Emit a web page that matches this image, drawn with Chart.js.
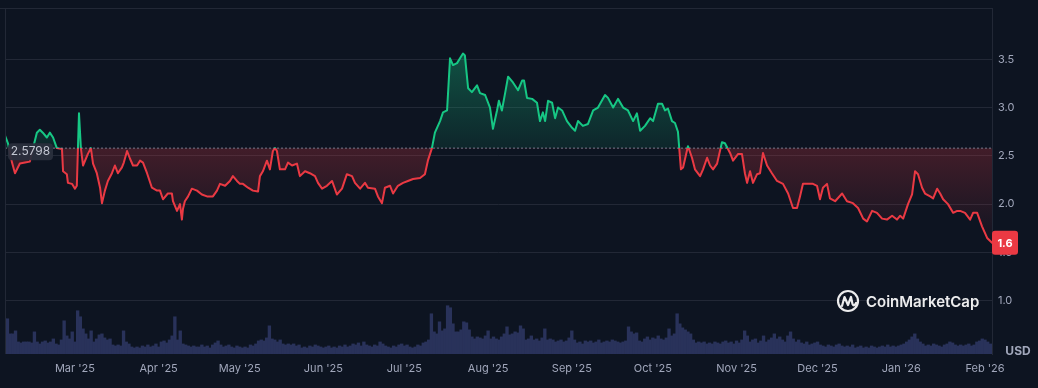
<!DOCTYPE html>
<html><head><meta charset="utf-8">
<script src="https://cdn.jsdelivr.net/npm/chart.js@4.4.1/dist/chart.umd.min.js"></script>
<style>html,body{margin:0;padding:0;background:#0d1421;overflow:hidden}#c{display:block}</style>
</head><body><canvas id="c" width="1038" height="388"></canvas>
<script>
// ---- data (days counted from 1 Mar 2025) ----
const openPrice = 2.5798;
const lastPrice = 1.6;
const priceDays = [
 -25.9,-24.8,-23.3,-22.2,-20.4,-18.5,-16.7,-15.6,-14.1,-13.0,
 -11.9,-10.4,-9.3,-8.1,-6.7,-4.8,-4.4,-3.0,-2.6,-1.1,
 0,0.7,1.5,2.2,3.0,4.8,5.9,6.7,8.1,9.3,
 10.0,11.1,12.2,13.7,14.8,15.9,17.4,18.1,19.3,20.4,
 21.5,23.0,24.1,25.2,26.7,28.5,30.4,31.5,32.6,34.4,
 35.9,36.3,37.8,38.9,39.6,40.0,40.7,41.9,43.3,45.2,
 47.0,48.9,51.1,52.6,53.7,55.6,57.4,58.5,60.0,61.1,
 62.2,64.1,65.9,67.8,68.5,69.6,71.1,72.2,73.3,74.1,
 74.8,75.9,77.8,78.9,80.4,82.2,83.3,85.2,87.0,88.9,
 90.0,91.5,93.3,95.2,97.0,98.9,100.7,102.6,103.7,105.6,
 107.4,108.5,111.1,112.2,113.7,114.8,116.7,117.8,119.6,121.5,
 123.3,125.2,127.8,129.6,130.7,132.2,133.3,135.2,136.3,137.8,
 138.9,140.0,141.5,142.6,143.7,144.4,145.6,147.0,148.9,150.0,
 151.9,153.7,154.8,156.3,157.0,158.1,159.3,160.4,162.2,164.1,
 165.6,166.3,167.4,169.3,171.1,172.2,173.3,174.1,175.2,176.7,
 177.8,178.9,180.4,182.2,184.1,185.2,186.3,188.1,190.0,191.9,
 193.7,196.3,197.4,199.3,201.1,203.0,204.8,206.7,208.1,209.3,
 211.1,213.0,214.1,215.9,217.4,218.5,219.6,221.1,222.2,223.3,
 224.4,225.2,227.0,228.5,229.6,231.5,232.6,234.1,235.2,236.3,
 237.8,239.6,240.7,242.6,243.7,245.6,247.0,248.1,248.9,250.0,
 251.1,252.6,253.7,254.8,256.3,258.1,260.0,262.2,264.1,265.9,
 267.4,268.5,269.6,271.5,273.3,274.8,275.9,277.0,278.5,279.6,
 281.5,284.1,285.9,288.1,290.0,291.9,293.3,295.2,297.0,298.9,
 300.7,302.6,304.4,305.6,306.7,308.5,310.0,311.1,312.2,313.7,
 314.8,316.7,317.8,319.3,320.4,321.5,323.3,325.2,326.7,327.8,
 329.6,331.5,332.6,334.1,335.9,337.8,339.6
];
const priceValues = [
 2.71,2.63,2.43,2.32,2.42,2.43,2.44,2.57,2.74,2.77,
 2.74,2.69,2.74,2.69,2.58,2.57,2.34,2.31,2.22,2.21,
 2.16,2.19,2.94,2.58,2.40,2.52,2.58,2.42,2.32,2.17,
 2.01,2.14,2.24,2.32,2.40,2.32,2.38,2.43,2.55,2.47,
 2.40,2.40,2.45,2.43,2.32,2.17,2.14,2.14,2.05,2.11,
 2.11,2.03,1.93,2.00,1.84,1.95,2.03,2.08,2.16,2.14,
 2.10,2.08,2.08,2.14,2.21,2.19,2.24,2.29,2.24,2.21,
 2.21,2.17,2.14,2.13,2.29,2.34,2.45,2.36,2.55,2.58,
 2.55,2.36,2.36,2.43,2.40,2.42,2.29,2.34,2.32,2.29,
 2.22,2.16,2.19,2.24,2.10,2.16,2.31,2.29,2.22,2.16,
 2.22,2.17,2.16,2.08,2.01,2.17,2.19,2.11,2.19,2.22,
 2.24,2.26,2.27,2.31,2.45,2.58,2.74,2.86,2.95,2.97,
 3.51,3.44,3.46,3.51,3.56,3.54,3.20,3.16,3.23,3.15,
 3.13,3.00,2.78,2.97,3.07,2.97,3.15,3.32,3.26,3.18,
 3.28,3.28,3.10,3.09,3.05,2.86,2.95,2.86,3.07,3.05,
 2.89,3.00,2.97,2.86,2.79,2.76,2.86,2.81,2.83,2.97,
 3.00,3.13,3.10,3.00,3.09,3.00,2.97,2.86,2.94,2.76,
 2.81,2.89,2.86,3.04,3.04,2.97,2.99,2.86,2.84,2.75,
 2.36,2.38,2.60,2.48,2.36,2.29,2.36,2.48,2.40,2.36,
 2.42,2.64,2.63,2.53,2.45,2.52,2.52,2.32,2.22,2.34,
 2.22,2.31,2.32,2.53,2.40,2.32,2.24,2.21,2.11,1.96,
 1.96,2.08,2.21,2.21,2.21,2.19,2.05,2.17,2.21,2.06,
 2.03,2.11,2.03,2.01,1.96,1.85,1.82,1.93,1.91,1.85,
 1.84,1.88,1.84,1.88,1.85,2.00,2.10,2.34,2.31,2.17,
 2.11,2.08,2.06,2.16,2.11,2.05,2.00,1.91,1.93,1.93,
 1.91,1.84,1.91,1.91,1.77,1.65,1.60
];
const volumeStartDay = -26;
const volumeValues = [
 35,35,20,20,23,12,11,12,12,12,11,22,12,10,12,13,11,12,15,10,9,14,33,18,15,22,
 12,43,37,25,20,15,23,12,15,19,20,16,14,15,9,8,9,8,23,12,10,
 7,6,7,6,8,7,9,7,8,10,7,
 12,13,11,14,18,37,14,23,10,
 9,8,7,8,7,7,9,7,8,6,9,
 11,13,9,7,8,9,7,6,8,
 7,6,7,6,9,8,10,
 13,14,13,16,28,15,14,12,14,
 10,9,10,9,10,8,9,
 6,7,6,8,7,9,8,7,6,7,8,6,7,6,8,7,9,7,8,
 10,9,11,8,12,9,8,7,9,8,
 12,10,8,7,6,8,7,9,10,8,
 9,7,6,7,9,8,11,12,14,
 40,22,20,32,23,25,48,46,30,22,22,24,32,31,24,
 17,15,17,16,15,18,23,15,17,15,14,17,20,27,19,20,22,21,
 28,25,14,15,18,14,15,13,16,25,14,15,14,12,13,14,12,13,16,
 23,14,11,12,10,13,12,13,11,12,14,11,12,13,12,14,13,12,11,12,13,
 27,22,20,21,13,12,15,17,14,16,15,18,15,14,16,25,18,20,40,30,26,24,22,20,
 14,11,12,11,12,10,11,10,12,11,10,12,13,11,12,10,13,11,14,23,18,
 12,14,15,11,13,18,12,14,16,20,15,17,14,12,18,22,15,12,14,
 11,10,12,9,10,11,12,9,8,7,9,8,7,9,10,8,7,8,7,9,
 6,7,8,6,7,6,8,7,6,7,8,7,9,7,8,7,8,9,10,
 12,14,17,20,15,12,10,8,9,8,10,9,8,7,9,10,
 12,11,9,8,9,8,9,10,8,9,12,13,15,14,12,10
];
const monthDays = [0,31,61,92,122,153,184,214,245,275,306,337];
const monthLabels = ["Mar '25","Apr '25","May '25","Jun '25","Jul '25","Aug '25","Sep '25","Oct '25","Nov '25","Dec '25","Jan '26","Feb '26"];
const priceTicks = [1.0,1.5,2.0,2.5,3.0,3.5];

// ---- styling ----
const BG = '#0d1421';
const GREEN = '#16c784';
const RED = '#ea3943';
const GRID = '#222836';
const TICK = '#a1a7bb';
const xMin = -25.9, xMax = 339.6;
const FONT = 'Inter, "Noto Sans", Roboto, sans-serif';

function makeGradient(chart, kind) {
  const {ctx, chartArea, scales} = chart;
  if (!chartArea || !scales.y) return kind === 'line' ? RED : 'rgba(0,0,0,0)';
  const top = chartArea.top, bottom = chartArea.bottom, h = bottom - top;
  const fr = v => Math.min(Math.max((scales.y.getPixelForValue(v) - top) / h, 0), 1);
  const fb = fr(openPrice);
  const g = ctx.createLinearGradient(0, top, 0, bottom);
  if (kind === 'line') {
    g.addColorStop(0, GREEN); g.addColorStop(fb, GREEN);
    g.addColorStop(fb, RED); g.addColorStop(1, RED);
  } else {
    const fh = fr(Math.max(...priceValues));
    const fl = fr(Math.min(...priceValues));
    g.addColorStop(0, 'rgba(22,199,132,0.34)');
    g.addColorStop(fh, 'rgba(22,199,132,0.34)');
    g.addColorStop(fb, 'rgba(22,199,132,0.10)');
    g.addColorStop(fb, 'rgba(234,57,67,0.24)');
    g.addColorStop(fl, 'rgba(234,57,67,0.02)');
    g.addColorStop(1, 'rgba(234,57,67,0.0)');
  }
  return g;
}

function roundRect(ctx, x, y, w, h, r) {
  ctx.beginPath();
  ctx.moveTo(x + r, y);
  ctx.lineTo(x + w - r, y); ctx.quadraticCurveTo(x + w, y, x + w, y + r);
  ctx.lineTo(x + w, y + h - r); ctx.quadraticCurveTo(x + w, y + h, x + w - r, y + h);
  ctx.lineTo(x + r, y + h); ctx.quadraticCurveTo(x, y + h, x, y + h - r);
  ctx.lineTo(x, y + r); ctx.quadraticCurveTo(x, y, x + r, y);
  ctx.closePath();
}

const bgPlugin = {
  id: 'bg',
  beforeDraw(chart) {
    const {ctx, width, height} = chart;
    ctx.save(); ctx.fillStyle = BG; ctx.fillRect(0, 0, width, height); ctx.restore();
  }
};

const overlayPlugin = {
  id: 'overlay',
  afterDraw(chart) {
    const {ctx, chartArea: a, scales} = chart;
    ctx.save();
    // frame lines
    ctx.strokeStyle = GRID; ctx.lineWidth = 1;
    ctx.beginPath();
    ctx.moveTo(0, a.top + 0.5); ctx.lineTo(a.right, a.top + 0.5);
    ctx.moveTo(a.left + 0.5, a.top); ctx.lineTo(a.left + 0.5, a.bottom);
    ctx.stroke();

    // watermark
    const wx = 848, wy = 301;
    ctx.strokeStyle = 'rgba(255,255,255,0.92)';
    ctx.lineWidth = 2.2; ctx.lineJoin = 'round'; ctx.lineCap = 'round';
    ctx.beginPath(); ctx.arc(wx, wy, 10, 0, Math.PI * 2); ctx.stroke();
    ctx.beginPath();
    ctx.moveTo(wx - 6, wy + 5); ctx.lineTo(wx - 3.5, wy - 4); ctx.lineTo(wx, wy + 4);
    ctx.lineTo(wx + 3, wy - 4); ctx.lineTo(wx + 4.5, wy + 3); ctx.quadraticCurveTo(wx + 6, wy + 6, wx + 8, wy + 2);
    ctx.stroke();
    ctx.fillStyle = 'rgba(255,255,255,0.92)';
    ctx.font = '600 15px ' + FONT;
    ctx.textAlign = 'left'; ctx.textBaseline = 'middle';
    ctx.fillText('CoinMarketCap', 866, wy + 1);

    // open price label
    const yb = scales.y.getPixelForValue(openPrice);
    ctx.fillStyle = 'rgba(42,47,61,0.95)';
    roundRect(ctx, a.left + 3, yb - 5, 45, 17, 4); ctx.fill();
    ctx.fillStyle = '#c3c7d2';
    ctx.font = '12px ' + FONT;
    ctx.textAlign = 'center'; ctx.textBaseline = 'middle';
    ctx.fillText(openPrice.toFixed(4), a.left + 25.5, yb + 3.5);

    // last price badge
    const yl = scales.y.getPixelForValue(lastPrice);
    ctx.fillStyle = RED;
    roundRect(ctx, a.right, yl - 12, 26, 24, 3); ctx.fill();
    ctx.fillStyle = '#ffffff';
    ctx.font = 'bold 11px ' + FONT;
    ctx.fillText(String(lastPrice), a.right + 13, yl + 0.5);

    // currency label
    ctx.fillStyle = TICK;
    ctx.font = 'bold 12px ' + FONT;
    ctx.fillText('USD', a.right + 26, a.bottom - 3);
    ctx.restore();
  }
};

const chart = new Chart(document.getElementById('c').getContext('2d'), {
  type: 'line',
  data: {
    datasets: [
      {
        type: 'line', label: 'Open', order: 0,
        data: [{x: xMin, y: openPrice}, {x: xMax, y: openPrice}],
        borderColor: 'rgba(150,156,175,0.75)', borderWidth: 1, borderDash: [2, 2],
        pointRadius: 0, fill: false, yAxisID: 'y'
      },
      {
        type: 'line', label: 'Price', order: 1,
        data: priceDays.map((d, i) => ({x: d, y: priceValues[i]})),
        borderColor: c => makeGradient(c.chart, 'line'),
        backgroundColor: c => makeGradient(c.chart, 'fill'),
        fill: {target: {value: openPrice}},
        borderWidth: 2, pointRadius: 0, tension: 0,
        borderJoinStyle: 'round', borderCapStyle: 'round', yAxisID: 'y'
      },
      {
        type: 'bar', label: 'Volume', order: 2,
        data: volumeValues.map((v, i) => ({x: volumeStartDay + i, y: v})),
        backgroundColor: '#29325a', borderWidth: 0,
        barPercentage: 1, categoryPercentage: 1, yAxisID: 'yVol'
      }
    ]
  },
  options: {
    responsive: false, animation: false, devicePixelRatio: 1,
    layout: {padding: {left: 5, top: 8, right: 0, bottom: 0}},
    plugins: {legend: {display: false}, tooltip: {enabled: false}},
    scales: {
      x: {
        type: 'linear', min: xMin, max: xMax, offset: false,
        grid: {display: false, drawTicks: false},
        border: {display: false},
        afterBuildTicks: s => { s.ticks = monthDays.map(v => ({value: v})); },
        afterFit: s => { s.height = 34; s.paddingLeft = 0; s.paddingRight = 0; },
        ticks: {
          autoSkip: false, maxRotation: 0, padding: 8, color: TICK,
          font: {family: FONT, size: 11},
          callback: (v, i) => monthLabels[i]
        }
      },
      y: {
        type: 'linear', position: 'right', min: 0.448, max: 4.031,
        grid: {color: GRID, drawTicks: false, lineWidth: 1},
        border: {display: true, color: GRID},
        afterBuildTicks: s => { s.ticks = priceTicks.map(v => ({value: v})); },
        afterFit: s => { s.width = 46; s.paddingTop = 0; s.paddingBottom = 0; },
        ticks: {
          padding: 6, color: TICK, font: {family: FONT, size: 11},
          callback: v => Number(v).toFixed(1)
        }
      },
      yVol: {type: 'linear', display: false, min: 0, max: 344}
    }
  },
  plugins: [bgPlugin, overlayPlugin]
});
</script>
</body></html>
